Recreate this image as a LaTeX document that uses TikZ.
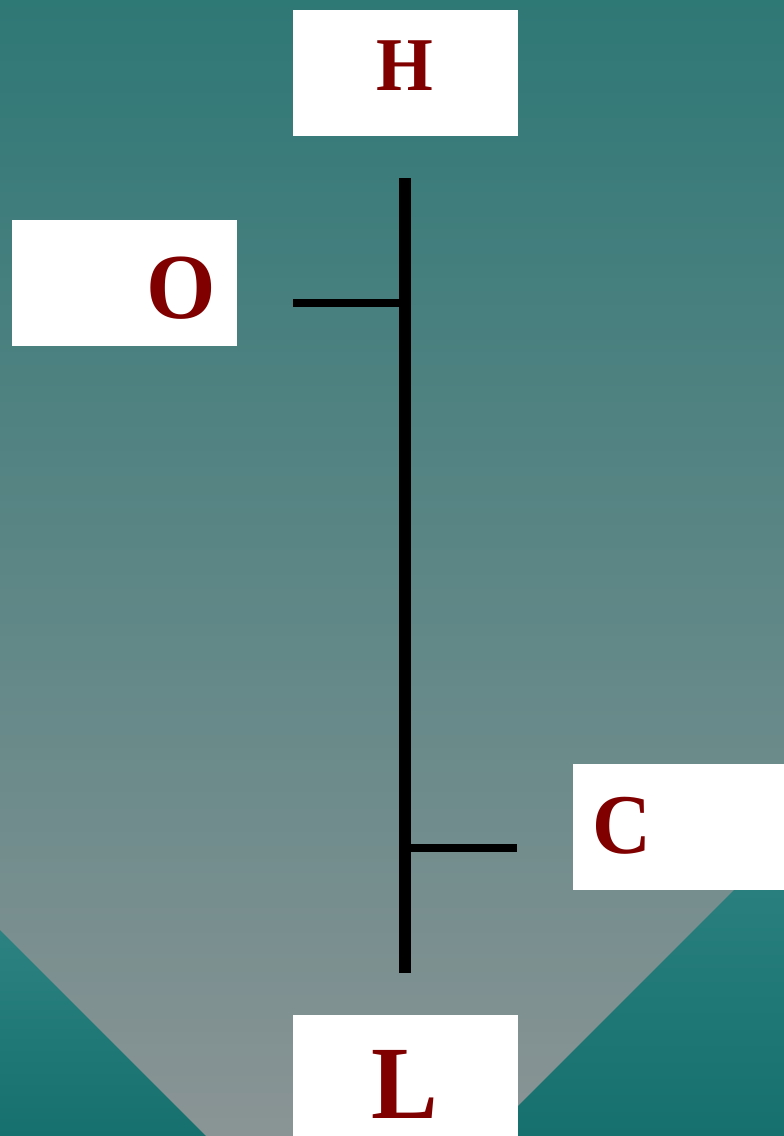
\documentclass[tikz,border=0pt]{standalone}
\usepackage{fontspec}
\setmainfont[FakeStretch=0.96]{Liberation Serif}
\definecolor{bgtop}{RGB}{46,120,118}
\definecolor{bgbot}{RGB}{138,148,149}
\definecolor{cornertop}{RGB}{44,130,128}
\definecolor{cornerbot}{RGB}{22,112,110}
\definecolor{letterred}{RGB}{128,0,0}
\begin{document}
\begin{tikzpicture}[x=1pt,y=-1pt]
	\tikzstyle{box}=[fill=white, inner sep=0pt, anchor=north west]
	\tikzstyle{letter}=[text=letterred, inner sep=0pt, anchor=base, font=\bfseries]
	\tikzstyle{spine}=[black, line width=12pt]
	\tikzstyle{tick}=[black, line width=8pt]
	\useasboundingbox (0,0) rectangle (784,1136);
	\shade [top color=bgtop, bottom color=bgbot] (0,0) rectangle (784,1136);
	\shade [top color=cornertop, bottom color=cornerbot] (0,930) -- (206,1136) -- (0,1136) -- cycle;
	\shade [top color=cornertop, bottom color=cornerbot] (784,840) -- (488,1136) -- (784,1136) -- cycle;
	\node [box, minimum width=225pt, minimum height=126pt] (hbox) at (293,10) {};
	\node [box, minimum width=225pt, minimum height=126pt] (obox) at (12,220) {};
	\node [box, minimum width=211pt, minimum height=126pt] (cbox) at (573,764) {};
	\node [box, minimum width=225pt, minimum height=121pt] (lbox) at (293,1015) {};
	\node [letter, font=\bfseries\fontsize{76}{80}\selectfont] (H) at (405,90) {H};
	\node [letter, font=\bfseries\fontsize{93}{96}\selectfont] (O) at (181.5,318) {O};
	\node [letter, font=\bfseries\fontsize{85}{88}\selectfont] (C) at (622,853) {C};
	\node [letter, font=\bfseries\fontsize{104}{108}\selectfont] (L) at (405,1118) {L};
	\coordinate (top) at (405,178);
	\coordinate (bottom) at (405,973);
	\coordinate (oend) at (293,303);
	\coordinate (ojoin) at (405,303);
	\coordinate (cjoin) at (405,848);
	\coordinate (cend) at (517,848);
	\draw [spine] (top) -- (bottom);
	\draw [tick] (oend) -- (ojoin);
	\draw [tick] (cjoin) -- (cend);
\end{tikzpicture}
\end{document}
